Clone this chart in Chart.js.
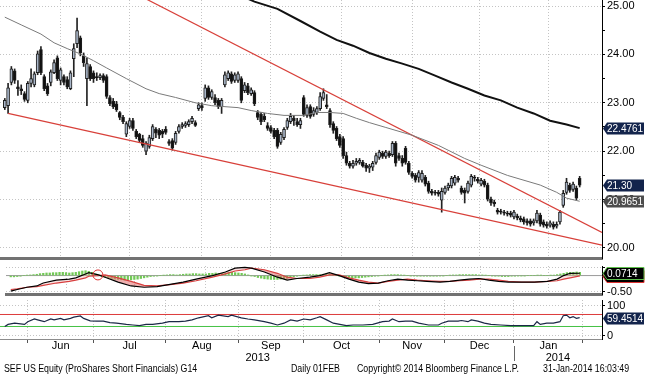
<!DOCTYPE html>
<html>
<head>
<meta charset="utf-8">
<script src="https://cdn.jsdelivr.net/npm/chart.js@4.4.0/dist/chart.umd.min.js"></script>
<style>
  body { margin: 0; background: #fff; width: 645px; height: 376px; overflow: hidden; position: relative; font-family: "Liberation Sans", Arial, sans-serif; }
  canvas { position: absolute; left: 0; }
  #main { top: 0; }
  #macd { top: 260px; }
  #rsi { top: 300px; }
  .foot { position: absolute; top: 363px; font-size: 10px; white-space: nowrap; transform: scaleX(0.88); transform-origin: left top; color: #000; }
</style>
</head>
<body>
<canvas id="main" width="645" height="260"></canvas>
<canvas id="macd" width="645" height="40"></canvas>
<canvas id="rsi" width="645" height="76"></canvas>
<div class="foot" style="left:4px">SEF US Equity (ProShares Short Financials) G14</div>
<div class="foot" style="left:291px">Daily 01FEB</div>
<div class="foot" style="left:357px">Copyright&copy; 2014 Bloomberg Finance L.P.</div>
<div class="foot" style="left:543px">31-Jan-2014 16:03:49</div>
<script>
// one candle per trading day, index 0 = 22 May 2013, index 175 = 31 Jan 2014
var openP = [
  22.90, 22.94, 23.42, 23.66, 23.33, 23.29, 23.19, 23.05, 23.40, 23.37,
  23.62, 24.10, 23.54, 23.35, 23.42, 23.62, 23.93, 23.46, 23.54, 23.48,
  23.29, 23.91, 24.22, 24.34, 23.97, 23.50, 23.75, 23.62, 23.54, 23.52,
  23.56, 23.54, 23.11, 23.03, 22.98, 22.80, 22.70, 22.35, 22.51, 22.63,
  22.41, 22.35, 22.26, 22.00, 22.10, 22.26, 22.45, 22.43, 22.41, 22.45,
  22.20, 22.22, 22.18, 22.41, 22.51, 22.53, 22.55, 22.61, 22.59, 22.88,
  22.94, 23.09, 23.31, 23.11, 23.11, 23.05, 22.92, 23.37, 23.50, 23.60,
  23.46, 23.46, 23.50, 23.25, 23.35, 23.19, 23.21, 22.80, 22.76, 22.72,
  22.53, 22.49, 22.43, 22.43, 22.18, 22.28, 22.49, 22.61, 22.68, 22.61,
  22.55, 23.11, 22.74, 22.92, 22.76, 22.80, 22.88, 23.09, 22.96, 22.84,
  22.57, 22.47, 22.30, 22.26, 21.91, 21.75, 21.69, 21.75, 21.77, 21.77,
  21.71, 21.65, 21.67, 21.77, 21.87, 21.96, 21.89, 21.96, 21.93, 22.16,
  21.91, 21.85, 22.06, 21.75, 21.54, 21.50, 21.46, 21.40, 21.46, 21.34,
  21.17, 21.15, 21.15, 20.99, 21.15, 21.24, 21.28, 21.34, 21.44, 21.24,
  21.19, 21.17, 21.30, 21.46, 21.42, 21.32, 21.38, 21.30, 21.01, 20.95,
  20.78, 20.76, 20.74, 20.72, 20.72, 20.64, 20.66, 20.62, 20.60, 20.56,
  20.56, 20.52, 20.56, 20.68, 20.54, 20.49, 20.47, 20.49, 20.45, 20.54,
  20.88, 21.15, 21.30, 21.21, 21.24, 21.44
];
var highP = [
  23.09, 23.40, 23.75, 23.70, 23.46, 23.37, 23.23, 23.44, 23.70, 23.64,
  24.07, 24.16, 23.58, 23.40, 23.68, 23.89, 23.97, 23.72, 23.58, 23.54,
  23.66, 24.22, 24.75, 24.38, 24.03, 23.93, 23.79, 23.66, 23.62, 23.60,
  23.60, 23.58, 23.15, 23.09, 23.03, 22.82, 22.74, 22.61, 22.68, 22.68,
  22.45, 22.37, 22.33, 22.20, 22.33, 22.55, 22.49, 22.47, 22.45, 22.51,
  22.24, 22.26, 22.41, 22.55, 22.59, 22.61, 22.65, 22.72, 22.63, 23.00,
  23.00, 23.37, 23.35, 23.27, 23.17, 23.09, 23.09, 23.64, 23.66, 23.64,
  23.62, 23.64, 23.54, 23.42, 23.40, 23.31, 23.25, 22.84, 22.80, 22.78,
  22.59, 22.53, 22.47, 22.47, 22.39, 22.49, 22.68, 22.78, 22.74, 22.68,
  22.68, 23.15, 22.96, 22.96, 22.90, 22.92, 23.21, 23.29, 23.17, 22.88,
  22.61, 22.51, 22.35, 22.30, 21.98, 21.79, 21.81, 21.85, 21.85, 21.81,
  21.75, 21.73, 21.79, 21.96, 22.02, 22.00, 22.02, 22.00, 22.20, 22.20,
  21.96, 21.91, 22.10, 21.79, 21.58, 21.54, 21.60, 21.60, 21.50, 21.38,
  21.21, 21.19, 21.19, 21.24, 21.28, 21.34, 21.48, 21.50, 21.48, 21.28,
  21.24, 21.38, 21.52, 21.50, 21.46, 21.44, 21.42, 21.34, 21.05, 20.99,
  20.82, 20.80, 20.78, 20.76, 20.76, 20.78, 20.70, 20.66, 20.64, 20.60,
  20.60, 20.60, 20.78, 20.72, 20.58, 20.54, 20.56, 20.54, 20.54, 20.78,
  21.19, 21.44, 21.34, 21.36, 21.28, 21.48
];
var lowP = [
  22.86, 22.78, 23.37, 23.40, 23.15, 23.17, 23.03, 23.00, 23.33, 23.33,
  23.58, 23.58, 23.25, 23.15, 23.35, 23.60, 23.46, 23.37, 23.37, 23.29,
  23.27, 23.54, 24.14, 23.97, 23.75, 22.94, 23.46, 23.42, 23.46, 23.48,
  23.42, 23.09, 22.94, 22.88, 22.82, 22.65, 22.57, 22.30, 22.47, 22.43,
  22.26, 22.18, 22.08, 21.93, 22.06, 22.22, 22.28, 22.26, 22.28, 22.35,
  22.12, 22.02, 22.14, 22.37, 22.47, 22.49, 22.51, 22.57, 22.51, 22.84,
  22.84, 23.03, 23.07, 23.07, 22.96, 22.88, 22.78, 23.33, 23.46, 23.40,
  23.42, 23.42, 23.00, 23.21, 23.17, 23.15, 22.94, 22.65, 22.55, 22.61,
  22.43, 22.37, 22.26, 22.06, 22.14, 22.24, 22.45, 22.57, 22.53, 22.51,
  22.47, 22.72, 22.70, 22.68, 22.72, 22.76, 22.84, 23.05, 22.88, 22.49,
  22.37, 22.22, 22.08, 21.85, 21.71, 21.65, 21.65, 21.71, 21.73, 21.67,
  21.58, 21.56, 21.60, 21.73, 21.83, 21.85, 21.85, 21.87, 21.89, 21.69,
  21.81, 21.69, 21.73, 21.52, 21.44, 21.36, 21.36, 21.36, 21.28, 21.13,
  21.09, 21.09, 21.07, 20.74, 21.11, 21.19, 21.24, 21.30, 21.36, 21.11,
  20.93, 21.13, 21.26, 21.38, 21.34, 21.28, 21.26, 20.97, 20.88, 20.86,
  20.70, 20.70, 20.68, 20.66, 20.64, 20.60, 20.58, 20.54, 20.49, 20.47,
  20.45, 20.47, 20.52, 20.45, 20.43, 20.41, 20.43, 20.39, 20.41, 20.49,
  20.84, 21.11, 21.15, 21.17, 20.99, 21.26
];
var closeP = [
  23.05, 23.31, 23.70, 23.46, 23.29, 23.25, 23.07, 23.40, 23.50, 23.60,
  24.01, 23.62, 23.29, 23.19, 23.64, 23.83, 23.50, 23.68, 23.42, 23.33,
  23.62, 24.12, 24.49, 24.03, 23.83, 23.81, 23.50, 23.50, 23.52, 23.56,
  23.46, 23.13, 22.98, 22.92, 22.86, 22.70, 22.61, 22.57, 22.63, 22.47,
  22.30, 22.22, 22.12, 22.16, 22.28, 22.51, 22.37, 22.33, 22.35, 22.39,
  22.16, 22.06, 22.37, 22.51, 22.55, 22.57, 22.61, 22.68, 22.53, 22.96,
  22.90, 23.31, 23.11, 23.23, 23.00, 22.92, 23.05, 23.58, 23.62, 23.44,
  23.58, 23.60, 23.05, 23.37, 23.21, 23.27, 22.98, 22.70, 22.61, 22.65,
  22.47, 22.41, 22.30, 22.10, 22.35, 22.45, 22.63, 22.72, 22.63, 22.55,
  22.63, 22.76, 22.90, 22.72, 22.84, 22.88, 23.13, 23.21, 22.92, 22.55,
  22.43, 22.26, 22.12, 21.91, 21.75, 21.69, 21.75, 21.79, 21.81, 21.69,
  21.65, 21.69, 21.75, 21.91, 21.98, 21.89, 21.98, 21.91, 22.16, 21.75,
  21.85, 21.75, 21.77, 21.56, 21.48, 21.40, 21.56, 21.54, 21.32, 21.17,
  21.13, 21.13, 21.11, 21.17, 21.24, 21.30, 21.44, 21.46, 21.40, 21.15,
  21.13, 21.34, 21.48, 21.44, 21.38, 21.40, 21.30, 21.01, 20.93, 20.91,
  20.74, 20.74, 20.72, 20.70, 20.68, 20.74, 20.62, 20.58, 20.54, 20.52,
  20.49, 20.56, 20.72, 20.49, 20.47, 20.45, 20.52, 20.43, 20.49, 20.74,
  21.13, 21.36, 21.19, 21.32, 21.03, 21.30
];

// moving averages at selected days
var ma50Idx = [0, 5, 11, 15, 19, 23, 27, 31, 37, 43, 47, 52, 58, 63, 71, 75, 80, 85, 91, 95, 99, 103, 107, 111, 116, 124, 132, 140, 145, 153, 163, 168, 171, 175];
var ma50Val = [24.77, 24.61, 24.42, 24.24, 24.12, 24.01, 23.87, 23.72, 23.50, 23.29, 23.19, 23.11, 23.00, 22.94, 22.90, 22.84, 22.78, 22.74, 22.74, 22.80, 22.80, 22.78, 22.68, 22.59, 22.49, 22.33, 22.12, 21.85, 21.71, 21.50, 21.30, 21.15, 21.03, 20.9651];
var ma200Idx = [70, 76, 83, 90, 96, 101, 106, 111, 116, 121, 126, 131, 136, 141, 146, 151, 156, 161, 166, 171, 175];
var ma200Val = [25.27, 25.09, 24.94, 24.69, 24.47, 24.30, 24.18, 24.03, 23.91, 23.81, 23.70, 23.56, 23.42, 23.29, 23.15, 23.05, 22.90, 22.78, 22.63, 22.55, 22.4761];

// hand drawn trend lines
var upperTrendIdx = [40, 181.8];
var upperTrendVal = [25.25, 20.32];
var lowerTrendIdx = [1, 181.8];
var lowerTrendVal = [22.78, 20.06];

// MACD panel
var macdIdx = [0, 2, 5, 8, 10, 14, 18, 20, 23, 24, 27, 29, 33, 37, 41, 45, 49, 53, 57, 62, 66, 69, 72, 74, 78, 82, 85, 88, 92, 95, 98, 101, 104, 107, 110, 113, 116, 119, 122, 125, 128, 132, 135, 138, 141, 144, 147, 150, 153, 157, 161, 165, 168, 170, 172, 175];
var macdVal = [-0.48, -0.43, -0.36, -0.32, -0.23, -0.14, -0.11, -0.07, 0.05, 0.09, 0.02, -0.05, -0.20, -0.32, -0.36, -0.34, -0.27, -0.20, -0.11, 0.00, 0.11, 0.23, 0.25, 0.23, 0.11, -0.05, -0.14, -0.09, -0.05, 0.00, 0.09, 0.00, -0.11, -0.20, -0.25, -0.23, -0.16, -0.11, -0.14, -0.16, -0.18, -0.20, -0.18, -0.14, -0.11, -0.09, -0.14, -0.18, -0.20, -0.20, -0.20, -0.18, -0.11, 0.00, 0.07, 0.0714];
var signalVal = [-0.43, -0.41, -0.36, -0.34, -0.30, -0.23, -0.18, -0.14, -0.07, -0.02, 0.00, 0.02, -0.07, -0.18, -0.30, -0.32, -0.28, -0.23, -0.16, -0.05, 0.05, 0.14, 0.18, 0.23, 0.18, 0.07, -0.05, -0.09, -0.09, -0.05, 0.02, 0.02, -0.07, -0.14, -0.20, -0.23, -0.18, -0.14, -0.11, -0.14, -0.16, -0.18, -0.18, -0.16, -0.14, -0.11, -0.11, -0.14, -0.18, -0.20, -0.20, -0.18, -0.16, -0.11, -0.07, -0.01];
var histVal = [
  -0.04, -0.04, -0.03, -0.02, 0.00, 0.01, 0.02, 0.03, 0.04, 0.06,
  0.07, 0.08, 0.08, 0.09, 0.09, 0.10, 0.10, 0.09, 0.08, 0.09,
  0.10, 0.12, 0.14, 0.15, 0.13, 0.10, 0.05, 0.01, -0.03, -0.05,
  -0.07, -0.09, -0.11, -0.12, -0.13, -0.14, -0.14, -0.13, -0.12, -0.11,
  -0.09, -0.07, -0.05, -0.03, -0.02, -0.01, 0.00, 0.01, 0.02, 0.03,
  0.03, 0.02, 0.03, 0.04, 0.05, 0.05, 0.06, 0.06, 0.05, 0.05,
  0.05, 0.07, 0.07, 0.08, 0.07, 0.07, 0.08, 0.10, 0.10, 0.09,
  0.08, 0.07, 0.05, 0.02, -0.01, -0.03, -0.06, -0.08, -0.10, -0.11,
  -0.12, -0.12, -0.12, -0.11, -0.10, -0.09, -0.06, -0.04, -0.02, 0.00,
  0.01, 0.02, 0.03, 0.03, 0.03, 0.03, 0.04, 0.05, 0.05, 0.03,
  0.01, -0.01, -0.03, -0.05, -0.06, -0.07, -0.07, -0.07, -0.06, -0.05,
  -0.04, -0.03, -0.02, -0.01, 0.00, 0.01, 0.02, 0.03, 0.03, 0.03,
  0.02, 0.01, 0.00, -0.01, -0.01, -0.02, -0.02, -0.02, -0.02, -0.02,
  -0.02, -0.02, -0.01, -0.01, 0.00, 0.01, 0.02, 0.02, 0.03, 0.03,
  0.03, 0.03, 0.03, 0.03, 0.02, 0.02, 0.01, 0.00, -0.01, -0.02,
  -0.02, -0.03, -0.03, -0.03, -0.02, -0.02, -0.01, -0.01, -0.01, 0.00,
  0.00, 0.00, 0.01, 0.01, 0.00, 0.00, 0.01, 0.01, 0.03, 0.05,
  0.07, 0.09, 0.10, 0.10, 0.11, 0.10
];
var crossIdx = [26.8];
var crossVal = [0.02];

// RSI panel
var rsiIdx = [0, 1, 3, 6, 7, 9, 10, 12, 14, 15, 17, 18, 20, 21, 23, 24, 26, 28, 30, 32, 34, 37, 39, 41, 43, 45, 48, 50, 53, 55, 57, 59, 62, 63, 65, 68, 69, 72, 74, 76, 79, 81, 83, 85, 87, 89, 91, 93, 95, 96, 98, 100, 102, 104, 106, 109, 112, 115, 117, 118, 120, 122, 124, 126, 129, 132, 133, 135, 138, 139, 141, 142, 144, 146, 148, 151, 154, 157, 161, 162, 163, 165, 167, 169, 170, 171, 172, 173, 174, 175];
var rsiVal = [30, 37, 41, 37, 46, 55, 52, 46, 55, 52, 57, 52, 57, 61, 65, 57, 49, 48, 48, 43, 41, 37, 35, 33, 37, 37, 41, 46, 46, 48, 52, 59, 66, 59, 68, 63, 68, 59, 55, 52, 46, 41, 35, 41, 52, 48, 55, 52, 59, 63, 52, 41, 37, 33, 35, 35, 37, 46, 48, 55, 46, 48, 48, 41, 35, 35, 41, 48, 48, 50, 46, 52, 48, 41, 37, 35, 33, 33, 33, 46, 37, 41, 41, 46, 66, 68, 59, 63, 57, 59.4514];
var rsiHigh = 70, rsiLow = 30;

// axes
var monthStarts = [7, 27, 49, 71, 91, 114, 134, 155, 176];
var monthMid = [17, 38, 60, 81, 102.5, 124, 144.5, 165.5];
var monthNames = ['Jun', 'Jul', 'Aug', 'Sep', 'Oct', 'Nov', 'Dec', 'Jan'];
var yearMid = [77, 168.4];
var yearNames = ['2013', '2014'];
var yearStart = 155;
var priceTicks = [20, 20.5, 21, 21.5, 22, 22.5, 23, 23.5, 24, 24.5, 25];
var macdTicks = [-0.5, 0, 0.25];
var rsiTicks = [0, 100];

var xMin = -1.46, xMax = 181.8;
var lbl = { family: 'Liberation Sans', size: 11 };

function pts(xs, ys) { return xs.map(function (x, i) { return { x: x, y: ys[i] }; }); }
function flat(v) { return [{ x: xMin, y: v }, { x: xMax, y: v }]; }

function tagPlugin(items) {
  return {
    id: 'tags',
    afterDraw: function (chart) {
      var ctx = chart.ctx, a = chart.chartArea, ys = chart.scales.y;
      items.forEach(function (t) {
        var y = Math.round(ys.getPixelForValue(t.value)) + 0.5;
        var x0 = a.right + 1, x1 = chart.width - 1, h = 12;
        ctx.save();
        ctx.beginPath();
        ctx.moveTo(x0, y);
        ctx.lineTo(x0 + 4, y - h / 2);
        ctx.lineTo(x1, y - h / 2);
        ctx.lineTo(x1, y + h / 2);
        ctx.lineTo(x0 + 4, y + h / 2);
        ctx.closePath();
        ctx.fillStyle = t.fill;
        ctx.fill();
        if (t.stroke) { ctx.strokeStyle = t.stroke; ctx.lineWidth = 1; ctx.stroke(); }
        ctx.fillStyle = '#fff';
        ctx.font = '10px "Liberation Sans"';
        ctx.textBaseline = 'middle';
        ctx.fillText(t.text, x0 + 4, y + 0.5);
        ctx.restore();
      });
    }
  };
}

function monthGrid(extra) {
  var base = {
    type: 'linear', min: xMin, max: xMax, offset: false,
    afterBuildTicks: function (s) { s.ticks = monthStarts.map(function (v) { return { value: v }; }); },
    afterFit: function (s) { s.height = 0; s.paddingLeft = 0; s.paddingRight = 0; },
    ticks: { display: false },
    grid: { color: '#c4c4c4', drawTicks: false },
    border: { display: true, color: '#727272', width: 3, dash: [1, 2] }
  };
  return Object.assign(base, extra || {});
}

function rightAxis(min, max, ticks, fmt, gridColor) {
  return {
    position: 'right', min: min, max: max,
    afterBuildTicks: function (s) { s.ticks = ticks.map(function (v) { return { value: v }; }); },
    afterFit: function (s) { s.width = 43; s.paddingTop = 0; s.paddingBottom = 0; },
    ticks: { autoSkip: false, callback: fmt, font: lbl, color: '#000', padding: 2 },
    grid: { color: gridColor, tickColor: '#000', tickLength: 3, tickBorderDash: [] },
    border: { display: true, color: '#000', width: 1, dash: [1, 2] }
  };
}

var common = {
  responsive: false, animation: false, events: [],
  plugins: { legend: { display: false }, tooltip: { enabled: false } }
};

// ---------- main price panel ----------
var candleWicks = lowP.map(function (l, i) { return { x: i, y: [l, highP[i]] }; });
var candleBodies = openP.map(function (o, i) { return { x: i, y: [o, closeP[i]] }; });

new Chart(document.getElementById('main'), {
  type: 'bar',
  data: {
    datasets: [
      { type: 'line', data: pts(ma200Idx, ma200Val), borderColor: '#111', borderWidth: 2, pointRadius: 0, order: 0 },
      { type: 'line', data: pts(ma50Idx, ma50Val), borderColor: '#7a7a7a', borderWidth: 1, pointRadius: 0, order: 0 },
      { type: 'line', data: pts(upperTrendIdx, upperTrendVal), borderColor: '#d8403a', borderWidth: 1.2, pointRadius: 0, order: 0 },
      { type: 'line', data: pts(lowerTrendIdx, lowerTrendVal), borderColor: '#d8403a', borderWidth: 1.2, pointRadius: 0, order: 0 },
      { data: candleBodies, grouped: false, barThickness: 3, minBarLength: 1, borderSkipped: false, borderWidth: 1,
        borderColor: '#1e1e1e',
        backgroundColor: function (c) { return closeP[c.dataIndex] >= openP[c.dataIndex] ? '#a9b6c8' : '#111'; },
        order: 1 },
      { data: candleWicks, grouped: false, barThickness: 1, borderWidth: 0, backgroundColor: '#222', order: 2 }
    ]
  },
  options: Object.assign({}, common, {
    layout: { padding: { left: 0, right: 0, top: 0, bottom: 2 } },
    scales: {
      x: monthGrid(),
      y: rightAxis(19.793, 25.124, priceTicks,
        function (v) { return Number.isInteger(v) ? v.toFixed(2) : ''; },
        function (c) { return c.tick && Number.isInteger(c.tick.value) ? '#c4c4c4' : 'transparent'; })
    }
  }),
  plugins: [tagPlugin([
    { value: ma200Val[ma200Val.length - 1], text: ma200Val[ma200Val.length - 1].toFixed(4), fill: '#13244c' },
    { value: ma50Val[ma50Val.length - 1], text: ma50Val[ma50Val.length - 1].toFixed(4), fill: '#4d4d4d' },
    { value: closeP[closeP.length - 1], text: closeP[closeP.length - 1].toFixed(2), fill: '#13244c' }
  ])]
});

// ---------- MACD panel ----------
new Chart(document.getElementById('macd'), {
  type: 'bar',
  data: {
    datasets: [
      { type: 'line', data: pts(crossIdx, crossVal), showLine: false, pointRadius: 5, pointBorderColor: '#d33', pointBorderWidth: 1, pointBackgroundColor: 'transparent', order: 0 },
      { type: 'line', data: pts(macdIdx, macdVal), borderColor: '#000', borderWidth: 1.2, pointRadius: 0, order: 1 },
      { type: 'line', data: pts(macdIdx, signalVal), borderColor: '#d84040', borderWidth: 1.2, pointRadius: 0, order: 1,
        fill: { target: 1, above: 'rgba(226,110,110,0.55)', below: 'rgba(240,170,170,0.35)' } },
      { data: histVal.map(function (v, i) { return { x: i, y: [0, v] }; }), grouped: false, barThickness: 1.6, borderWidth: 0, backgroundColor: '#72c956', order: 2 },
      { type: 'line', data: flat(0), borderColor: '#9a9a9a', borderWidth: 1, pointRadius: 0, order: 3 }
    ]
  },
  options: Object.assign({}, common, {
    layout: { padding: { left: 0, right: 0, top: 0, bottom: 2 } },
    scales: {
      x: monthGrid(),
      y: rightAxis(-0.568, 0.295, macdTicks,
        function (v) { return v === -0.5 ? '-0.50' : ''; },
        function (c) { return c.tick && c.tick.value !== 0 ? '#c4c4c4' : 'transparent'; })
    }
  }),
  plugins: [tagPlugin([
    { value: signalVal[signalVal.length - 1], text: signalVal[signalVal.length - 1].toFixed(4), fill: '#000', stroke: '#d33' },
    { value: macdVal[macdVal.length - 1], text: macdVal[macdVal.length - 1].toFixed(4), fill: '#000', stroke: '#5cbf4a' }
  ])]
});

// ---------- RSI panel ----------
var yearDivider = {
  id: 'yearDivider',
  afterDraw: function (chart) {
    var x = Math.round(chart.scales.x.getPixelForValue(yearStart)) + 0.5;
    var b = chart.chartArea.bottom;
    var ctx = chart.ctx;
    ctx.save();
    ctx.strokeStyle = '#666';
    ctx.lineWidth = 1;
    ctx.beginPath();
    ctx.moveTo(x, b + 7);
    ctx.lineTo(x, b + 22);
    ctx.stroke();
    ctx.restore();
  }
};

new Chart(document.getElementById('rsi'), {
  type: 'line',
  data: {
    datasets: [
      { data: pts(rsiIdx, rsiVal), borderColor: '#1b2847', borderWidth: 1.2, pointRadius: 0 },
      { data: flat(rsiHigh), borderColor: '#dd3b3b', borderWidth: 1, pointRadius: 0 },
      { data: flat(rsiLow), borderColor: '#45c245', borderWidth: 1, pointRadius: 0 }
    ]
  },
  options: Object.assign({}, common, {
    layout: { padding: { left: 0, right: 0, top: 0, bottom: 12 } },
    scales: {
      x: monthGrid({
        grid: { color: '#c4c4c4', drawTicks: true, tickLength: 4, tickColor: '#555', tickBorderDash: [] },
        border: { display: true, color: '#8c8c8c', width: 1, dash: [1, 2] }
      }),
      x2: {
        type: 'linear', position: 'bottom', min: xMin, max: xMax, offset: false, weight: 1,
        afterBuildTicks: function (s) { s.ticks = monthMid.map(function (v) { return { value: v }; }); },
        afterFit: function (s) { s.height = 12; s.paddingLeft = 0; s.paddingRight = 0; },
        ticks: { autoSkip: false, maxRotation: 0, padding: 0, font: lbl, color: '#000',
          callback: function (v, i) { return monthNames[i]; } },
        grid: { display: false, drawTicks: false }, border: { display: false }
      },
      x3: {
        type: 'linear', position: 'bottom', min: xMin, max: xMax, offset: false, weight: 2,
        afterBuildTicks: function (s) { s.ticks = yearMid.map(function (v) { return { value: v }; }); },
        afterFit: function (s) { s.height = 13; s.paddingLeft = 0; s.paddingRight = 0; },
        ticks: { autoSkip: false, maxRotation: 0, padding: 0, font: lbl, color: '#000',
          callback: function (v, i) { return yearNames[i]; } },
        grid: { display: false, drawTicks: false }, border: { display: false }
      },
      y: rightAxis(-11.67, 118.3, rsiTicks,
        function (v) { return String(v); },
        function () { return '#c4c4c4'; })
    }
  }),
  plugins: [yearDivider, tagPlugin([
    { value: rsiVal[rsiVal.length - 1], text: rsiVal[rsiVal.length - 1].toFixed(4), fill: '#13244c' }
  ])]
});
</script>
</body>
</html>
